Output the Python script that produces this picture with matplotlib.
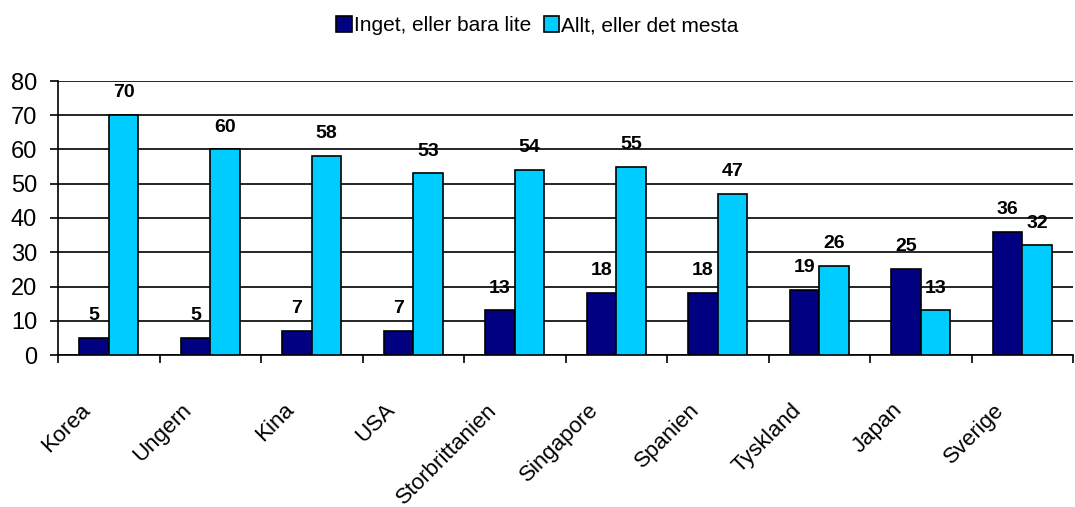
import numpy as np
import matplotlib.pyplot as plt

plt.rcParams['font.family'] = ['Liberation Sans', 'DejaVu Sans']

lander = ["Korea", "Ungern", "Kina", "USA", "Storbrittanien", "Singapore",
          "Spanien", "Tyskland", "Japan", "Sverige"]
inget = [5, 5, 7, 7, 13, 18, 18, 19, 25, 36]
allt = [70, 60, 58, 53, 54, 55, 47, 26, 13, 32]

fig = plt.figure(figsize=(10.75, 5.07), dpi=100)
ax = fig.add_axes([58 / 1075, 1 - 355 / 507, 1015 / 1075, (355 - 81) / 507])

x = np.arange(len(lander))
b = 0.29
bars1 = ax.bar(x - b / 2, inget, b, color='#000080', edgecolor='black', linewidth=1.2,
               label='Inget, eller bara lite', zorder=3)
bars2 = ax.bar(x + b / 2, allt, b, color='#00CCFF', edgecolor='black', linewidth=1.2,
               label='Allt, eller det mesta', zorder=3)

# värden ovanför staplarna
for bars in (bars1, bars2):
    for r in bars:
        ax.annotate(f"{r.get_height():.0f}", (r.get_x() + r.get_width() / 2, r.get_height()),
                    xytext=(0, 10), textcoords='offset points', ha='center', va='bottom',
                    fontsize=14, fontweight='bold', zorder=4)

ax.set_xlim(-0.5, len(lander) - 0.5)
ax.set_ylim(0, 80)
ax.set_yticks(range(0, 81, 10))
ax.tick_params(axis='y', labelsize=17, length=6, width=1.2, pad=9)
ax.yaxis.grid(True, color='black', linewidth=1.2, zorder=0)

ax.set_xticks(np.arange(len(lander) + 1) - 0.5)
ax.set_xticklabels([])
ax.tick_params(axis='x', length=6, width=1.2)
for i, namn in enumerate(lander):
    ax.annotate(namn, (i, 0), xytext=(-10, -32), textcoords='offset points',
                rotation=45, ha='right', va='top', fontsize=16, annotation_clip=False)

for s in ('top', 'right'):
    ax.spines[s].set_visible(False)
ax.spines['left'].set_linewidth(1.2)
ax.spines['bottom'].set_linewidth(1.2)

fig.legend(loc='upper center', bbox_to_anchor=(0.5, 1.005), ncol=2, frameon=False,
           fontsize=15, handlelength=0.75, handleheight=0.75, handletextpad=0.1,
           columnspacing=0.6)

fig.savefig('out.png', dpi=100)
